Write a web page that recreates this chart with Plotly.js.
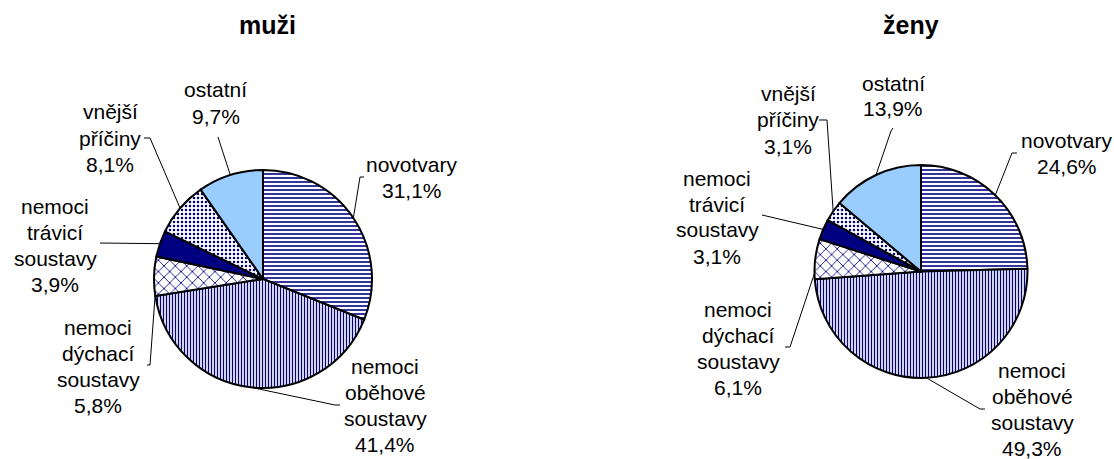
<!DOCTYPE html>
<html><head><meta charset="utf-8">
<script src="https://cdn.plot.ly/plotly-3.0.1.min.js"></script>
<style>html,body{margin:0;padding:0;background:#fff}</style>
</head><body><div id="chart" style="width:1114px;height:459px"></div>
<script>
// ---- data ----
const categories = ["novotvary", "nemoci oběhové soustavy", "nemoci dýchací soustavy", "nemoci trávicí soustavy", "vnější příčiny", "ostatní"];
const labelLines = [["novotvary"], ["nemoci", "oběhové", "soustavy"], ["nemoci", "dýchací", "soustavy"], ["nemoci", "trávicí", "soustavy"], ["vnější", "příčiny"], ["ostatní"]];
const muzi = [31.1, 41.4, 5.8, 3.9, 8.1, 9.7];
const zeny = [24.6, 49.3, 6.1, 3.1, 3.1, 13.9];
const chartTitles = ["muži", "ženy"];

// ---- styling ----
const W = 1114, H = 459;
const FONT = "Liberation Sans, Arial, sans-serif";
const fills = ["#FFFFFF", "#FFFFFF", "#FFFFFF", "#000080", "#FFFFFF", "#99CCFF"];
const pShapes = ["-", "|", "x", "", ".", ""];
const pFg = ["#000080", "#000080", "#000080", "#000080", "#000080", "#000080"];
const pSize = [4, 3, 8, 4, 4, 4];
const pSol = [0.4, 0.45, 0.2, 0.3, 0.3, 0.3];

const pies = [
  { values: muzi, title: chartTitles[0], cx: 263, cy: 279, r: 109, tx: 267, ty: 25,
    labelPos: [[412, 177], [385, 405], [98, 366], [55, 245], [110, 138], [216, 103]],
    leaders: [[[360, 177], [364, 177]], [[335, 405], [340, 405]], [[150, 365], [147, 365]], [[100, 243]], [[150, 138], [144, 138]], [[218, 137]]],
    frac: [0.5, 0.5, 0.03, 0.5, 0.5, 0.5] },
  { values: zeny, title: chartTitles[1], cx: 921, cy: 271.5, r: 106.5, tx: 911, ty: 25,
    labelPos: [[1067, 153], [1032, 409], [738, 348], [717, 217], [788, 120], [893, 96]],
    leaders: [[[1012, 153], [1017, 153]], [[980, 409], [985, 409]], [[790, 347], [785, 347]], [[762, 215]], [[827, 120], [819, 120]], [[891, 131], [893, 128]]],
    frac: [0.5, 0.5, 0.15, 0.5, 0.5, 0.5] }
];

const fmt = v => v.toFixed(1).replace('.', ',') + '%';
const px = x => x / W, py = y => 1 - y / H;
const LS = 26;

const traces = [], annotations = [], shapes = [];
pies.forEach(p => {
  traces.push({
    type: 'pie', values: p.values, labels: categories, sort: false, direction: 'clockwise', rotation: 0,
    textinfo: 'none', hoverinfo: 'label+percent', showlegend: false,
    domain: { x: [px(p.cx - p.r), px(p.cx + p.r)], y: [py(p.cy + p.r), py(p.cy - p.r)] },
    marker: { colors: fills, line: { color: '#000000', width: 2 },
      pattern: { shape: pShapes, fgcolor: pFg, bgcolor: fills, size: pSize, solidity: pSol, fillmode: 'replace' } }
  });
  annotations.push({ xref: 'paper', yref: 'paper', x: px(p.tx), y: py(p.ty), text: '<b>' + p.title + '</b>',
    showarrow: false, xanchor: 'center', yanchor: 'middle', font: { family: FONT, size: 25, color: '#000' } });
  const total = p.values.reduce((a, b) => a + b, 0);
  let cum = 0;
  p.values.forEach((v, i) => {
    const lines = labelLines[i].concat([fmt(v)]);
    const [lx, ly] = p.labelPos[i];
    lines.forEach((t, k) => {
      annotations.push({ xref: 'paper', yref: 'paper', x: px(lx), y: py(ly + (k - (lines.length - 1) / 2) * LS),
        text: t, showarrow: false, xanchor: 'center', yanchor: 'middle',
        font: { family: FONT, size: 21, color: '#000' } });
    });
    const ang = 2 * Math.PI * (cum + p.frac[i] * v) / total;
    const ex = p.cx + p.r * Math.sin(ang), ey = p.cy - p.r * Math.cos(ang);
    let path = 'M' + px(ex) + ',' + py(ey);
    p.leaders[i].forEach(pt => { path += ' L' + px(pt[0]) + ',' + py(pt[1]); });
    shapes.push({ type: 'path', xref: 'paper', yref: 'paper', path: path, layer: 'below',
      line: { color: '#000', width: 1 } });
    cum += v;
  });
});

Plotly.newPlot('chart', traces, {
  width: W, height: H, margin: { l: 0, r: 0, t: 0, b: 0 },
  paper_bgcolor: '#fff', plot_bgcolor: '#fff', showlegend: false,
  annotations: annotations, shapes: shapes
}, { displayModeBar: false, staticPlot: true });
</script></body></html>
